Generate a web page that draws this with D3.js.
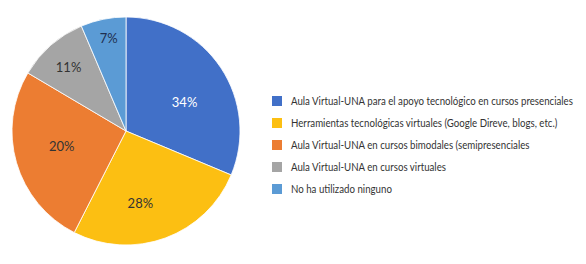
<!DOCTYPE html>
<html lang="es">
<head>
    <meta charset="UTF-8">
    <title>Uso de herramientas tecnológicas</title>
    <script src="https://d3js.org/d3.v7.min.js"></script>
    <style>
        body { margin: 0; background: #fff; }
    </style>
</head>
<body>
    <svg width="586" height="264"></svg>

    <script>
        // Categories, slice sizes as they appear in the drawing, and the printed labels
        const categories = [
            "Aula Virtual-UNA para el apoyo tecnológico en cursos presenciales",
            "Herramientas tecnológicas virtuales (Google Direve, blogs, etc.)",
            "Aula Virtual-UNA en cursos bimodales (semipresenciales",
            "Aula Virtual-UNA en cursos virtuales",
            "No ha utilizado ninguno"
        ];
        const sliceValues = [31.3, 26.2, 26.0, 10.1, 6.4];
        const sliceLabels = ["34%", "28%", "20%", "11%", "7%"];
        const colors = ["#4170c8", "#fcbf12", "#ec7d32", "#a5a5a5", "#5b9bd5"];
        const labelColors = ["#ffffff", "#333333", "#333333", "#333333", "#1f2f4f"];

        // label placement (fraction of radius, angle nudge in degrees), Office "best fit" style
        const labelRadius = [0.57, 0.65, 0.58, 0.75, 0.83];
        const labelNudge = [8, 9, 3, -1, 1];

        const width = 586, height = 264;
        const cx = 126, cy = 131, radius = 114;

        const svg = d3.select("svg")
            .attr("width", width)
            .attr("height", height)
            .style("font-family", "Lato, 'Open Sans', sans-serif");

        const data = categories.map((c, i) => ({
            name: c, value: sliceValues[i], label: sliceLabels[i],
            color: colors[i], labelColor: labelColors[i], i: i
        }));

        const pie = d3.pie().sort(null).value(d => d.value);
        const arc = d3.arc().innerRadius(0).outerRadius(radius);

        const g = svg.append("g").attr("transform", `translate(${cx},${cy})`);
        const arcs = pie(data);

        g.selectAll("path")
            .data(arcs)
            .enter()
            .append("path")
            .attr("d", arc)
            .attr("fill", d => d.data.color)
            .attr("stroke", "#ffffff")
            .attr("stroke-width", 0.8);

        g.selectAll("text")
            .data(arcs)
            .enter()
            .append("text")
            .attr("transform", d => {
                const a = (d.startAngle + d.endAngle) / 2 + labelNudge[d.data.i] * Math.PI / 180;
                const r = radius * labelRadius[d.data.i];
                return `translate(${r * Math.sin(a)},${-r * Math.cos(a)})`;
            })
            .attr("text-anchor", "middle")
            .attr("dy", "0.35em")
            .style("font-size", "13px")
            .style("fill", d => d.data.labelColor)
            .text(d => d.data.label);

        // Legend
        const legend = svg.append("g").attr("transform", "translate(272,96)");
        const rowH = 22;
        const item = legend.selectAll("g")
            .data(data)
            .enter()
            .append("g")
            .attr("transform", (d, i) => `translate(0,${i * rowH})`);

        item.append("rect")
            .attr("width", 10)
            .attr("height", 10)
            .attr("fill", d => d.color);

        const texts = item.append("g")
            .attr("class", "lbl")
            .append("text")
            .attr("y", 5)
            .attr("dy", "0.35em")
            .style("font-size", "11px")
            .style("fill", "#333")
            .text(d => d.name);

        // the original font is condensed: squeeze horizontally so the longest line fits
        const longest = d3.max(texts.nodes(), n => n.getComputedTextLength());
        const squeeze = Math.min(1, 282 / longest);
        item.select("g.lbl").attr("transform", `translate(19,0) scale(${squeeze},1)`);
    </script>
</body>
</html>
